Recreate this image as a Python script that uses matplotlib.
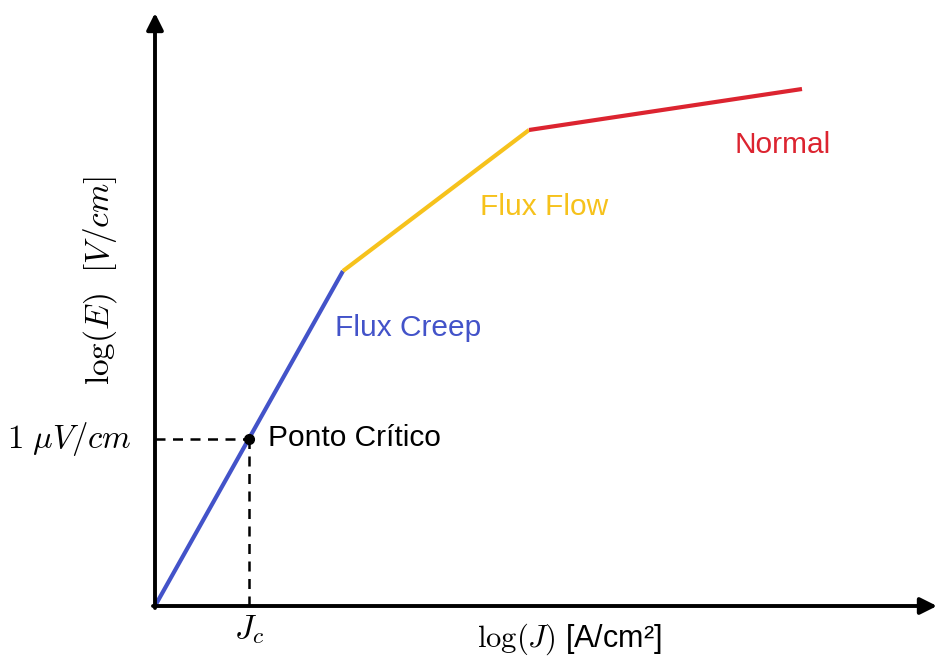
import matplotlib.pyplot as plt

plt.rcParams['font.family'] = ['Liberation Sans', 'DejaVu Sans']
plt.rcParams['mathtext.fontset'] = 'cm'

# regime boundaries in (log J, log E), arbitrary units
logJ = [0.0, 1.88, 3.74, 6.47]
logE = [0.0, 3.35, 4.76, 5.17]
regimes = ['Flux Creep', 'Flux Flow', 'Normal']
colors = ['#4353c9', '#f6c21c', '#dc2430']
# critical point (Jc, 1 uV/cm), on the flux creep branch
Jc, Ec = 0.94, 1.675

fig = plt.figure(figsize=(9.39, 6.68), dpi=100)
ax = fig.add_axes([0, 0, 1, 1])
ax.set_xlim(-1.55, 7.84)
ax.set_ylim(-0.62, 6.06)
ax.axis('off')

# axes drawn as arrows
ax.annotate('', xy=(7.82, 0), xytext=(-0.02, 0),
            arrowprops=dict(arrowstyle='-|>', lw=2.8, color='black',
                            mutation_scale=25, shrinkA=0, shrinkB=0))
ax.annotate('', xy=(0, 5.93), xytext=(0, -0.02),
            arrowprops=dict(arrowstyle='-|>', lw=2.8, color='black',
                            mutation_scale=25, shrinkA=0, shrinkB=0))

# dashed guides to the critical point
ax.plot([0, Jc], [Ec, Ec], ls=(0, (4, 3)), color='black', lw=1.8)
ax.plot([Jc, Jc], [0, Ec], ls=(0, (4, 3)), color='black', lw=1.8)

# piecewise curve, one colour per regime
for i in range(3):
    ax.plot(logJ[i:i + 2], logE[i:i + 2], color=colors[i], lw=3, solid_capstyle='butt')

ax.plot(Jc, Ec, 'o', color='black', ms=7)
ax.text(Jc + 0.19, Ec, 'Ponto Crítico', fontsize=21.5, va='center', ha='left')

ax.text(1.8, 2.78, regimes[0], color=colors[0], fontsize=21.5, va='center', ha='left')
ax.text(3.25, 3.99, regimes[1], color=colors[1], fontsize=21.5, va='center', ha='left')
ax.text(5.8, 4.61, regimes[2], color=colors[2], fontsize=21.5, va='center', ha='left')

# axis labels
ax.text(-0.23, Ec, r'$1\ \mu V/cm$', fontsize=23.5, va='center', ha='right')
ax.text(Jc, -0.24, r'$J_c$', fontsize=24, va='center', ha='center')
ax.text(4.14, -0.33, r'$\log(J)$ [A/cm²]', fontsize=22, va='center', ha='center')
ax.text(-0.55, 3.25, r'$\log(E)\ \ [V/cm]$', fontsize=24, va='center', ha='center',
        rotation=90)

fig.savefig('out.png', dpi=100)
